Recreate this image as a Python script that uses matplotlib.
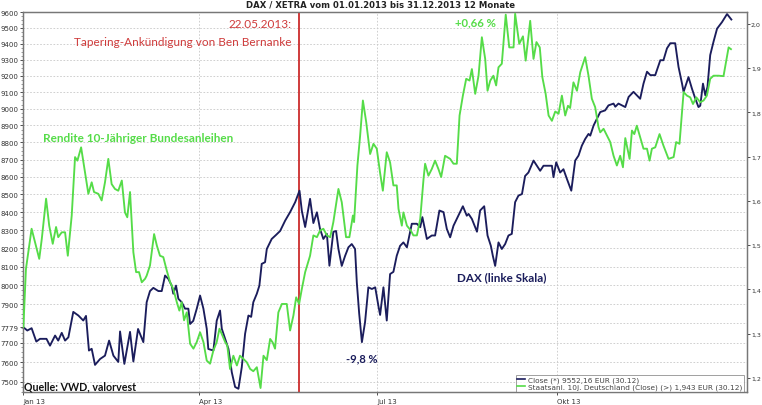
import matplotlib
matplotlib.use('Agg')
import matplotlib.pyplot as plt
import matplotlib.ticker as mticker
import pandas as pd

# ---------------- data ----------------
start = pd.Timestamp('2013-01-01')

dax_day = [0.2, 2.2, 4.4, 6.8, 8.7, 12.0, 13.8, 16.4, 18.0, 19.8, 21.5, 23.2, 25.7, 28.3, 30.8, 32.2,
           33.7, 35.1, 36.8, 39.4, 41.9, 44.0, 46.2, 48.7, 49.6, 51.8, 54.7, 56.4, 58.8, 61.5, 63.2,
           64.9, 66.6, 69.2, 70.9, 72.6, 74.3, 76.0, 76.8, 78.2, 79.4, 81.1, 82.8, 84.5, 85.4, 87.0,
           88.8, 90.5, 92.2, 93.9, 94.7, 97.3, 99.0, 100.7, 101.6, 103.3, 105.0, 106.7, 108.4, 110.1,
           111.8, 113.5, 115.2, 116.6, 117.7, 119.5, 120.8, 122.0, 123.7, 124.6, 127.1, 129.3, 131.4,
           134.0, 136.5, 139.1, 141.3, 142.5, 144.2, 146.7, 148.4, 150.2, 151.8, 153.5, 155.3, 156.6,
           158.6, 160.0, 161.2, 162.9, 164.6, 166.3, 168.0, 169.7, 170.6, 171.8, 173.2, 174.8, 176.5,
           178.3, 180.0, 181.6, 182.5, 184.2, 185.9, 187.6, 189.3, 191.0, 192.7, 194.4, 196.2, 198.7,
           201.3, 203.0, 204.1, 206.4, 208.9, 210.6, 212.8, 214.9, 216.6, 218.3, 220.0, 222.5, 224.8,
           226.8, 227.7, 229.4, 232.0, 233.6, 235.7, 237.4, 239.1, 240.1, 241.3, 243.0, 244.7, 246.4,
           248.1, 249.8, 251.5, 253.2, 255.0, 256.6, 258.3, 260.9, 262.6, 264.3, 266.0, 268.6, 270.3,
           271.1, 272.5, 274.5, 276.2, 278.0, 280.2, 282.2, 283.9, 285.6, 287.3, 289.0, 289.9, 291.6,
           293.3, 295.0, 297.5, 299.2, 301.8, 302.7, 304.3, 306.1, 307.8, 309.5, 312.0, 313.7, 315.4,
           317.1, 318.9, 320.6, 323.1, 325.7, 327.3, 329.1, 330.8, 333.3, 335.0, 336.8, 337.6, 340.1,
           341.9, 343.6, 345.2, 346.1, 347.5, 348.7, 349.8, 351.2, 352.9, 354.7, 357.2, 359.8, 362.0]
dax_val = [7779, 7762, 7774, 7705, 7719, 7719, 7684, 7736, 7710, 7750, 7710, 7727, 7859, 7840, 7814, 7838,
           7659, 7668, 7586, 7616, 7633, 7710, 7633, 7601, 7757, 7591, 7755, 7603, 7770, 7702, 7910,
           7969, 7986, 7969, 7969, 8052, 8034, 7998, 7955, 7998, 7928, 7910, 7876, 7876, 7796, 7812,
           7876, 7945, 7876, 7771, 7667, 7659, 7813, 7866, 7771, 7719, 7667, 7549, 7475, 7466,
           7574, 7745, 7840, 7833, 7910, 7955, 7998, 8115, 8124, 8196, 8251, 8273, 8295,
           8353, 8400, 8456, 8521, 8407, 8317, 8475, 8339, 8399, 8306, 8251, 8279, 8105,
           8290, 8295, 8196, 8104, 8158, 8205, 8223, 8196, 8014, 7851, 7702, 7805, 7989,
           7980, 7989, 7892, 7843, 7989, 7814, 8060, 8072, 8159, 8213, 8232, 8205, 8335,
           8335, 8316, 8372, 8251, 8270, 8270, 8409, 8400, 8306, 8260, 8324, 8380, 8433,
           8380, 8390, 8362, 8291, 8409, 8433, 8270, 8213, 8159, 8104, 8232, 8196, 8223,
           8270, 8279, 8456, 8493, 8502, 8605, 8625, 8694, 8664, 8635, 8664, 8664, 8664,
           8598, 8684, 8625, 8644, 8587, 8521, 8694, 8723, 8781, 8820, 8850, 8840, 8900,
           8940, 8980, 8990, 9020, 9031, 9012, 9031, 9020, 9010, 9071, 9102, 9081, 9060,
           9152, 9225, 9204, 9204, 9296, 9296, 9370, 9402, 9402, 9255, 9152, 9102, 9192,
           9120, 9060, 9010, 9018, 9152, 9081, 9132, 9328, 9412, 9494, 9535, 9587, 9552]

bund_day = [0.2, 1.5, 2.7, 4.4, 6.1, 8.3, 9.6, 11.8, 13.4, 15.2, 16.9, 18.0, 19.8, 21.5, 22.9, 24.9,
            26.6, 27.8, 29.7, 31.7, 33.4, 35.1, 36.3, 38.5, 40.2, 41.9, 43.6, 45.3, 47.0, 48.7, 50.5,
            52.1, 53.3, 54.7, 56.4, 57.8, 59.3, 60.7, 62.4, 63.2, 64.9, 67.0, 68.4, 70.0, 71.7, 73.5,
            75.2, 76.8, 78.6, 79.9, 81.1, 82.3, 83.7, 85.4, 87.1, 88.8, 90.5, 92.2, 93.9, 95.6, 97.3,
            99.0, 100.4, 101.6, 103.3, 104.4, 105.8, 107.5, 109.3, 110.9, 112.6, 114.4, 116.1, 117.7,
            119.5, 121.4, 122.9, 124.6, 126.3, 127.6, 128.8, 130.5, 132.3, 134.8, 136.5, 138.2, 139.6,
            141.1, 142.5, 144.2, 146.7, 148.4, 150.2, 151.8, 153.5, 155.3, 157.0, 158.6, 161.2, 162.9,
            165.1, 166.8, 168.6, 169.2, 170.9, 172.3, 173.7, 175.4, 177.4, 179.1, 180.8, 182.5, 183.9,
            185.9, 187.6, 189.3, 191.0, 191.9, 193.6, 194.4, 196.2, 198.2, 199.5, 201.3, 203.0, 204.7,
            205.5, 207.2, 208.9, 210.6, 212.3, 213.7, 215.7, 218.3, 220.0, 221.7, 223.1, 224.8, 226.5,
            228.2, 229.4, 231.1, 232.8, 234.5, 236.2, 237.4, 238.8, 240.4, 241.8, 243.0, 244.7, 246.7,
            248.5, 250.7, 251.5, 253.6, 255.5, 256.9, 259.2, 260.9, 262.4, 264.1, 265.4, 267.1, 268.6,
            270.3, 272.0, 273.7, 275.4, 277.1, 278.5, 279.6, 281.3, 283.1, 284.8, 287.3, 289.0, 290.7,
            292.4, 294.1, 295.0, 296.7, 298.4, 300.1, 301.8, 303.5, 305.2, 306.6, 307.8, 310.0, 311.2,
            312.4, 313.7, 315.4, 317.1, 318.9, 320.2, 321.4, 323.1, 325.3, 327.3, 329.9, 332.5, 333.8,
            335.5, 337.6, 339.3, 341.0, 342.4, 344.1, 346.1, 347.8, 349.5, 351.2, 352.9, 355.5, 358.0,
            360.6, 361.8]
bund_val = [1.315, 1.446, 1.484, 1.537, 1.507, 1.469, 1.514, 1.605, 1.544, 1.503, 1.541, 1.518, 1.529, 1.529, 1.476, 1.567,
            1.699, 1.691, 1.721, 1.665, 1.616, 1.642, 1.620, 1.616, 1.601, 1.642, 1.695, 1.638, 1.627, 1.623, 1.646,
            1.574, 1.563, 1.620, 1.484, 1.439, 1.439, 1.416, 1.424, 1.431, 1.454, 1.525, 1.499, 1.476, 1.473, 1.442,
            1.416, 1.401, 1.371, 1.352, 1.371, 1.330, 1.348, 1.277, 1.266, 1.281, 1.303, 1.281, 1.239, 1.232, 1.262,
            1.281, 1.311, 1.299, 1.281, 1.273, 1.220, 1.250, 1.228, 1.250, 1.243, 1.235, 1.220, 1.215,
            1.224, 1.177, 1.250, 1.240, 1.288, 1.280, 1.266, 1.348, 1.367, 1.367, 1.307, 1.341, 1.382,
            1.367, 1.401, 1.439, 1.476, 1.522, 1.518, 1.533, 1.537, 1.522, 1.518, 1.552, 1.627, 1.597,
            1.518, 1.518, 1.567, 1.552, 1.680, 1.748, 1.827, 1.778, 1.706, 1.729, 1.718, 1.663, 1.623,
            1.710, 1.687, 1.635, 1.635, 1.582, 1.544, 1.574, 1.544, 1.533, 1.522, 1.522, 1.559, 1.650,
            1.684, 1.657, 1.672, 1.691, 1.672, 1.654, 1.702, 1.695, 1.684, 1.684, 1.793, 1.838, 1.876,
            1.872, 1.898, 1.842, 1.883, 1.970, 1.921, 1.849, 1.872, 1.883, 1.861, 1.902, 1.910, 2.021,
            1.947, 1.947, 2.023, 1.955, 1.972, 1.917, 2.007, 1.921, 1.959, 1.947, 1.880, 1.842, 1.793,
            1.781, 1.802, 1.797, 1.838, 1.793, 1.815, 1.810, 1.868, 1.849, 1.891, 1.925, 1.883, 1.831,
            1.812, 1.767, 1.755, 1.763, 1.748, 1.733, 1.702, 1.680, 1.702, 1.676, 1.742, 1.695, 1.759,
            1.751, 1.770, 1.744, 1.718, 1.718, 1.691, 1.718, 1.721, 1.751, 1.725, 1.695, 1.699, 1.733,
            1.729, 1.846, 1.838, 1.834, 1.819, 1.834, 1.823, 1.827, 1.838, 1.876, 1.883, 1.883, 1.882,
            1.947, 1.943]

dax_ticks = [7500, 7600, 7700, 7779, 7900, 8000, 8100, 8200, 8300, 8400, 8500, 8600, 8700,
             8800, 8900, 9000, 9100, 9200, 9300, 9400, 9500, 9600]
dax_grid = [7500, 7600, 7700, 7800, 7900, 8000, 8100, 8200, 8300, 8400, 8500, 8600, 8700,
            8800, 8900, 9000, 9100, 9200, 9300, 9400, 9500, 9600]
bund_ticks = [1.2, 1.3, 1.4, 1.5, 1.6, 1.7, 1.8, 1.9, 2.0]
bund_labels = ['1,2', '1,3', '1,4', '1,5', '1,6', '1,7', '1,8', '1,9', '2,0']
month_ticks = ['2013-01-01', '2013-04-01', '2013-07-01', '2013-10-01']
month_labels = ['Jan 13', 'Apr 13', 'Jul 13', 'Okt 13']
tapering_date = '2013-05-22'

title = 'DAX / XETRA vom 01.01.2013 bis 31.12.2013 12 Monate'
legend_dax = 'Close (*) 9552,16 EUR (30.12)'
legend_bund = 'Staatsanl. 10j. Deutschland (Close) (>) 1,943 EUR (30.12)'

# ---------------- style ----------------
NAVY = '#1b1d5c'
GREEN = '#55dc48'
RED = '#cf3b3b'
W, H = 762, 406

dax_dates = start + pd.to_timedelta(dax_day, unit='D')
bund_dates = start + pd.to_timedelta(bund_day, unit='D')

fig = plt.figure(figsize=(W / 100, H / 100), dpi=100)
fig.patch.set_facecolor('white')
L, R, T, B = 23, 747, 13, 393
ax = fig.add_axes([L / W, 1 - B / H, (R - L) / W, (B - T) / H])
ax.set_facecolor('white')

ax.set_yscale('log')
ax.set_ylim(7450, 9600)
ax.set_xlim(start, start + pd.Timedelta(days=370))

for g in dax_grid:
    ax.axhline(g, color='#c8c8c8', lw=0.6, ls=(0, (2, 2)), zorder=0)
for m in month_ticks[1:]:
    ax.axvline(pd.Timestamp(m), color='#c8c8c8', lw=0.6, ls=(0, (2, 2)), zorder=0)

ax.axvline(pd.Timestamp(tapering_date), color=RED, lw=1.4, zorder=3)

ax.plot(dax_dates, dax_val, color=NAVY, lw=1.35, zorder=4)

ax.yaxis.set_major_locator(mticker.FixedLocator(dax_ticks))
ax.yaxis.set_major_formatter(mticker.FixedFormatter([str(t) for t in dax_ticks]))
ax.yaxis.set_minor_locator(mticker.MultipleLocator(25))
ax.yaxis.set_minor_formatter(mticker.NullFormatter())
ax.tick_params(axis='y', which='major', labelsize=5, length=2.5, width=0.6, pad=1, colors='#333333')
ax.tick_params(axis='y', which='minor', length=1.2, width=0.4, colors='#555555')

ax.set_xticks([pd.Timestamp(m) for m in month_ticks])
ax.set_xticklabels(month_labels, ha='left')
ax.tick_params(axis='x', labelsize=5, length=2.5, width=0.6, pad=1.5, colors='#333333')
ax.xaxis.set_minor_locator(mticker.NullLocator())

for s in ax.spines.values():
    s.set_color('#777777')
    s.set_linewidth(0.9)

ax2 = ax.twinx()
ax2.set_ylim(1.168, 2.027)
ax2.plot(bund_dates, bund_val, color=GREEN, lw=1.35, zorder=4)
ax2.set_yticks(bund_ticks)
ax2.set_yticklabels(bund_labels)
ax2.tick_params(axis='y', labelsize=4.5, length=2, width=0.6, pad=0.8, colors='#333333')
for s in ax2.spines.values():
    s.set_color('#777777')
    s.set_linewidth(0.9)

# legend box
leg = ax.legend(handles=[plt.Line2D([], [], color=NAVY, lw=1.2),
                         plt.Line2D([], [], color=GREEN, lw=1.2)],
                labels=[legend_dax, legend_bund],
                loc='lower right', bbox_to_anchor=((744 - L) / (R - L), 0.0),
                fontsize=5.3, frameon=True, fancybox=False, handlelength=1.1,
                handletextpad=0.35, borderpad=0.2, labelspacing=0.1, borderaxespad=0.05)
leg.get_frame().set_edgecolor('#888888')
leg.get_frame().set_linewidth(0.7)
for t in leg.get_texts():
    t.set_color('#444444')
leg.set_zorder(10)

def fx(px):
    return px / W

def fy(py):
    return 1 - py / H

fig.text(fx(380), fy(5), title, ha='center', va='center', fontsize=6.1, fontweight='bold',
         color='#222222')

CAL = ['Lato', 'DejaVu Sans']
fig.text(fx(292), fy(25), '22.05.2013:', ha='right', va='center', fontsize=8.5, color=RED, family=CAL)
fig.text(fx(292), fy(42), 'Tapering-Ankündigung von Ben Bernanke', ha='right', va='center',
         fontsize=8.5, color=RED, family=CAL)
fig.text(fx(43), fy(139), 'Rendite 10-Jähriger Bundesanleihen', ha='left', va='center',
         fontsize=8.5, color=GREEN, fontweight='bold', family=CAL)
fig.text(fx(455), fy(22.5), '+0,66 %', ha='left', va='center', fontsize=8.2, color=GREEN,
         fontweight='bold', family=CAL)
fig.text(fx(457), fy(278), 'DAX (linke Skala)', ha='left', va='center', fontsize=8.4, color=NAVY,
         fontweight='bold', family=CAL)
fig.text(fx(346), fy(359), '-9,8 %', ha='left', va='center', fontsize=8.0, color=NAVY,
         fontweight='bold', family=CAL)
fig.text(fx(24), fy(387), 'Quelle: VWD, valorvest', ha='left', va='center', fontsize=7.7,
         color='#111111', fontweight='bold', family=CAL)

fig.savefig('out.png', dpi=100)
